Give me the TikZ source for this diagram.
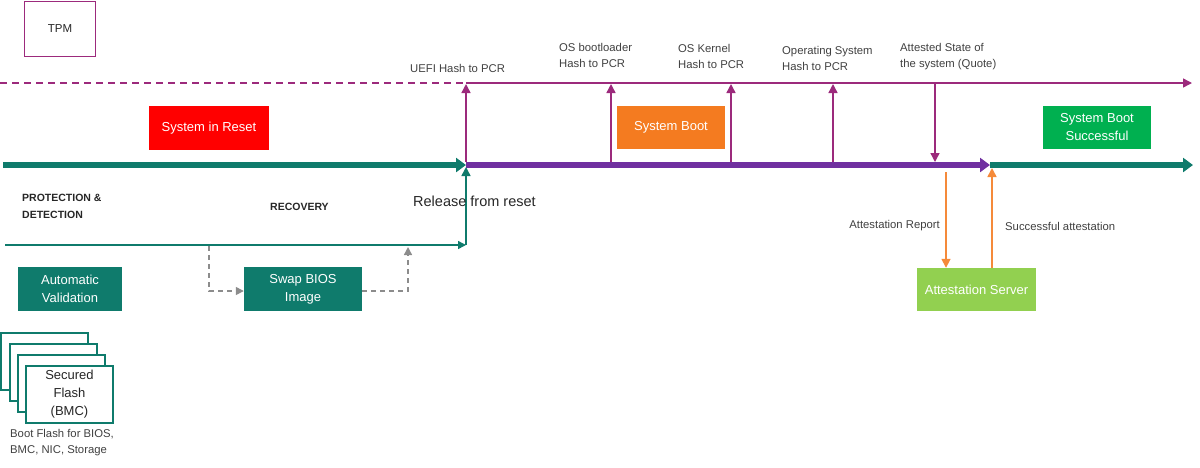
\documentclass[tikz,border=0pt]{standalone}
\usepackage{fontspec}
\setmainfont{Liberation Sans}
\usetikzlibrary{arrows.meta}
\definecolor{tealc}{HTML}{0F7B6C}
\definecolor{purp}{HTML}{7030A0}
\definecolor{mag}{HTML}{9C2A7C}
\definecolor{redc}{HTML}{FF0000}
\definecolor{orangec}{HTML}{F47B20}
\definecolor{greenc}{HTML}{00B050}
\definecolor{lgreen}{HTML}{92D050}
\definecolor{arrorange}{HTML}{F58A3A}
\definecolor{txt}{HTML}{404040}
\definecolor{greyd}{HTML}{8C8C8C}
\tikzset{
  phase/.style={rectangle, inner sep=0pt, text=white, align=center,
    font=\fontsize{13}{18}\selectfont},
  lbl/.style={inner sep=0pt, text=txt, align=left, font=\fontsize{11.3}{16}\selectfont},
  bold/.style={inner sep=0pt, text=black!85, align=left, font=\fontsize{10.5}{17}\selectfont\bfseries},
  flashbox/.style={rectangle, draw=tealc, line width=2pt, fill=white,
    minimum width=87pt, minimum height=57pt, inner sep=0pt},
  thickbar/.style={line width=5.5pt, -{Triangle[length=10pt,width=14pt]}},
  thinmag/.style={mag, line width=1.4pt, -{Triangle[length=9pt,width=9pt]}},
  orarrow/.style={arrorange, line width=1.6pt, -{Triangle[length=9pt,width=9pt]}},
  greyarrow/.style={greyd, line width=1.4pt, dash pattern=on 5pt off 4pt, -{Triangle[length=8pt,width=8pt]}},
}
\begin{document}
\begin{tikzpicture}[x=1pt,y=-1pt]
\useasboundingbox (0,0) rectangle (1200,467);

% TPM
\node[rectangle, draw=mag, line width=1.6pt, minimum width=71pt, minimum height=55pt,
  inner sep=0pt, text=black!85, font=\fontsize{11.5}{13}\selectfont] (tpm) at (60,29) {TPM};

% coordinates
\coordinate (d0) at (0,83);
\coordinate (du) at (466,83);
\coordinate (dend) at (1192,83);
\coordinate (t0) at (3,165);
\coordinate (t1) at (466,165);
\coordinate (t2) at (990,165);
\coordinate (t3) at (1193,165);

% dashed / solid TPM timeline
\draw[mag, line width=1.4pt, dash pattern=on 7pt off 5pt] (d0) -- (du);
\draw[thinmag] (du) -- (dend);

% thick timelines
\draw[thickbar, purp] (t1) -- (t2);
\draw[thickbar, tealc] (t2) -- (t3);
\draw[thickbar, tealc] (t0) -- (t1);

% vertical PCR arrows
\coordinate (a1b) at (466,162); \coordinate (a1t) at (466,84);
\coordinate (a2b) at (611,162); \coordinate (a2t) at (611,84);
\coordinate (a3b) at (731,162); \coordinate (a3t) at (731,84);
\coordinate (a4b) at (833,162); \coordinate (a4t) at (833,84);
\coordinate (a5t) at (935,84); \coordinate (a5b) at (935,162);
\draw[thinmag] (a1b) -- (a1t);
\draw[thinmag] (a2b) -- (a2t);
\draw[thinmag] (a3b) -- (a3t);
\draw[thinmag] (a4b) -- (a4t);
\draw[thinmag] (a5t) -- (a5b);

% labels
\node[lbl, anchor=west] (l1) at (410,68) {UEFI Hash to PCR};
\node[lbl, anchor=west] (l2) at (559,55) {OS bootloader\\Hash to PCR};
\node[lbl, anchor=west] (l3) at (678,56.5) {OS Kernel\\Hash to PCR};
\node[lbl, anchor=west] (l4) at (782,58) {Operating System\\Hash to PCR};
\node[lbl, anchor=west] (l5) at (900,57) {Attested State of\\the system (Quote)};

% phase boxes
\node[phase, fill=redc, minimum width=120pt, minimum height=44pt] (reset) at (209,128) {System in Reset};
\node[phase, fill=orangec, minimum width=108pt, minimum height=43pt] (boot) at (671,127.5) {System Boot};
\node[phase, fill=greenc, minimum width=108pt, minimum height=43pt] (succ) at (1097,127.5) {System Boot\\Successful};

% lower thin teal timeline
\coordinate (h0) at (5,245);
\coordinate (h1) at (466,245);
\coordinate (v1) at (466,167);
\draw[tealc, line width=1.5pt, -{Triangle[length=8pt,width=8pt]}] (h0) -- (h1);
\draw[tealc, line width=1.5pt, -{Triangle[length=9pt,width=9pt]}] (h1) -- (v1);

\node[bold, anchor=west] (prot) at (22,206.5) {PROTECTION \&\\DETECTION};
\node[bold, anchor=west] (rec) at (270,207) {RECOVERY};
\node[inner sep=0pt, anchor=west, text=black!85, font=\fontsize{14.5}{16}\selectfont] (rel) at (413,201) {Release from reset};

% recovery boxes
\node[phase, fill=tealc, minimum width=104pt, minimum height=44pt] (auto) at (70,289) {Automatic\\Validation};
\node[phase, fill=tealc, minimum width=118pt, minimum height=44pt] (swap) at (303,289) {Swap BIOS\\Image};

\coordinate (g0) at (209,246);
\coordinate (g1) at (209,291);
\coordinate (g2) at (408,291);
\coordinate (g3) at (408,247);
\draw[greyarrow] (g0) -- (g1) -- (swap.west |- g1);
\draw[greyarrow] (swap.east |- g2) -- (g2) -- (g3);

% flash stack
\node[flashbox] (f1) at (44.5,361.5) {};
\node[flashbox] (f2) at (53,372.5) {};
\node[flashbox] (f3) at (61.5,383.5) {};
\node[flashbox, align=center, text=black!85, font=\fontsize{13}{18}\selectfont] (f4) at (69.5,394.5) {Secured\\Flash\\(BMC)};
\node[lbl, anchor=north west] (fl) at (10,429) {Boot Flash for BIOS,\\BMC, NIC, Storage};

% attestation
\node[phase, fill=lgreen, minimum width=119pt, minimum height=43pt] (att) at (976.5,289.5) {Attestation Server};
\coordinate (o1) at (946,172);
\coordinate (o2) at (992,168);
\draw[orarrow] (o1) -- (o1 |- att.north);
\draw[orarrow] (o2 |- att.north) -- (o2);
\node[lbl, anchor=east] (ar) at (940,226) {Attestation Report};
\node[lbl, anchor=west] (sa) at (1005,226) {Successful attestation};
\end{tikzpicture}
\end{document}
